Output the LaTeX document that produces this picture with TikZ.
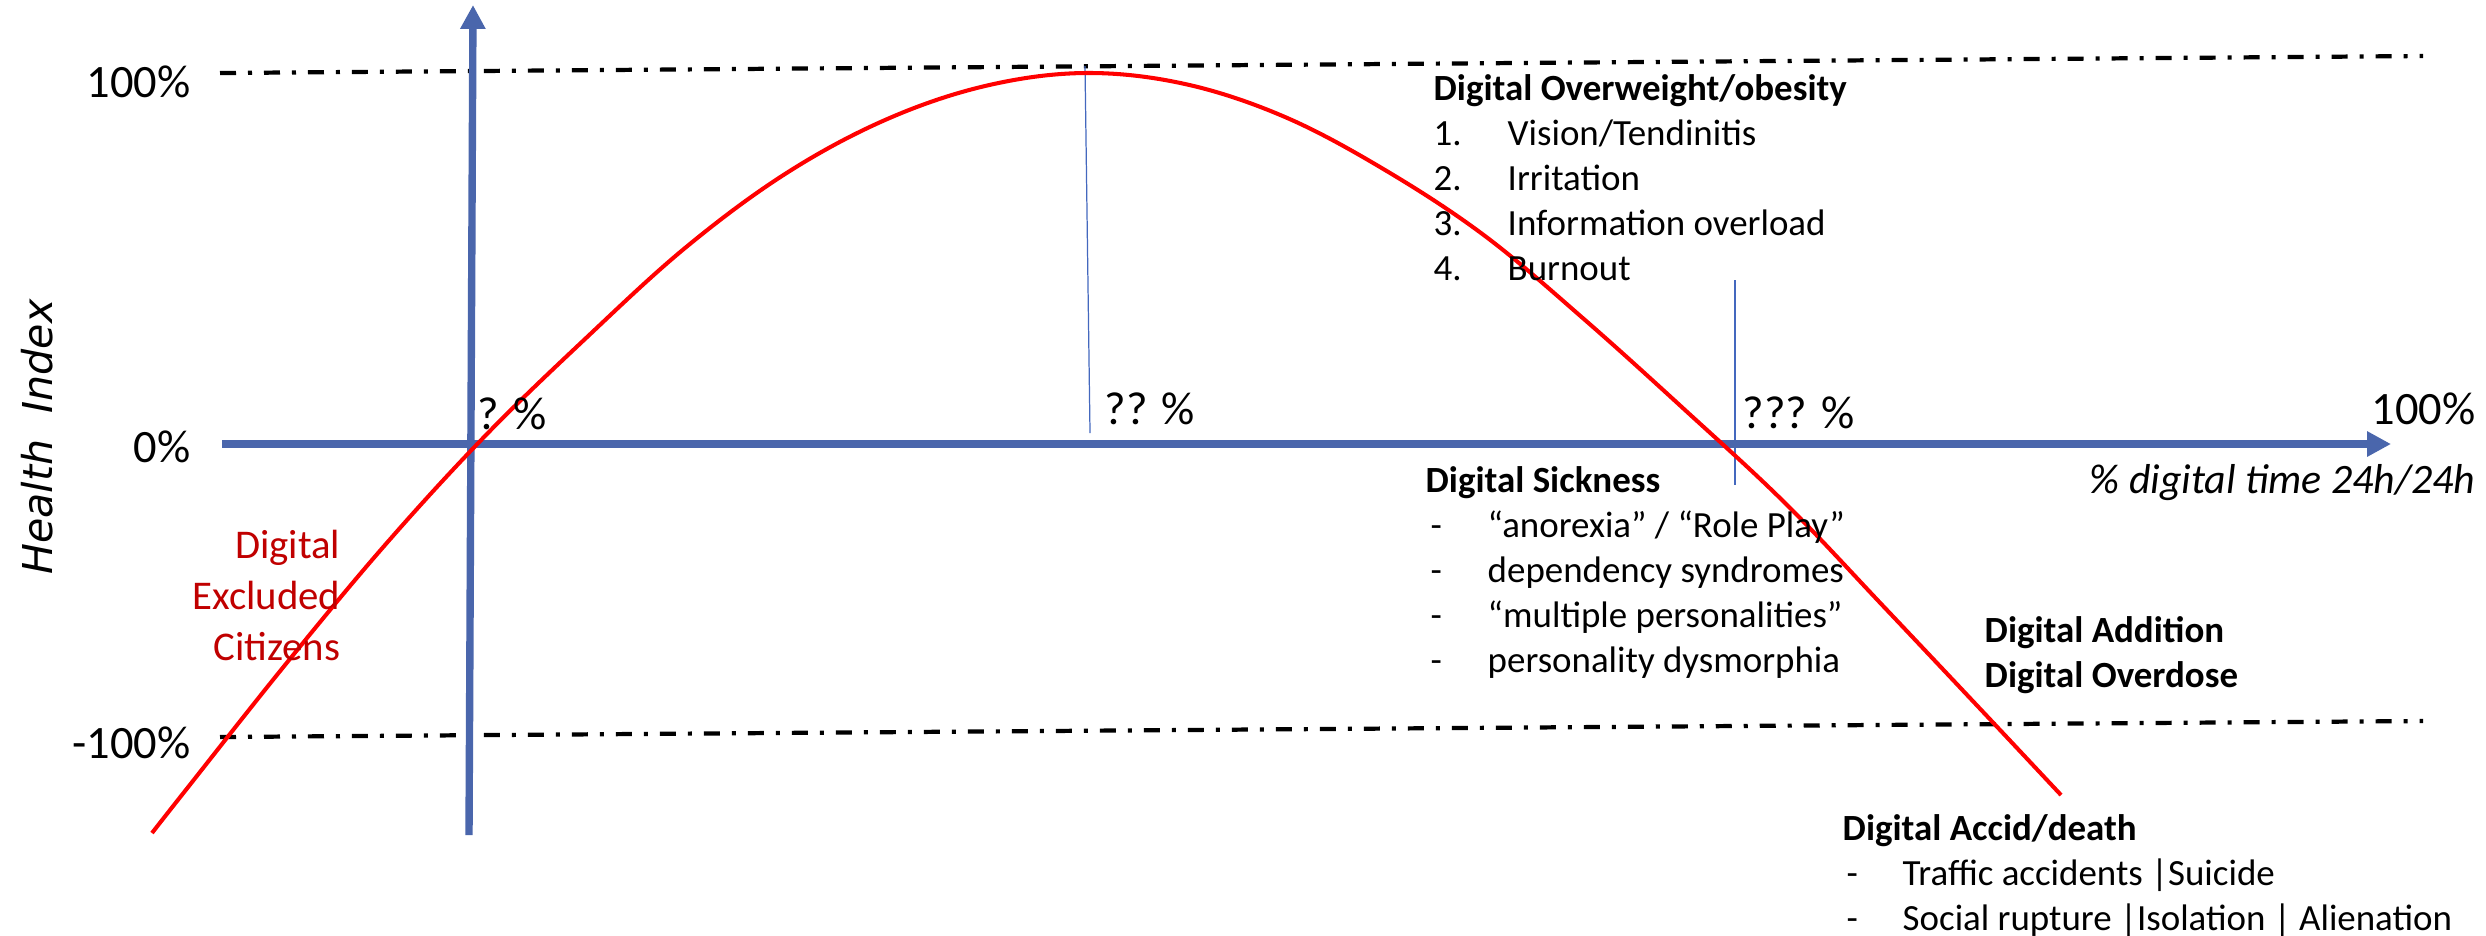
\documentclass[tikz,border=0pt]{standalone}
\usepackage{fontspec}
\setmainfont{Carlito}
\newfontfamily\hifont{DejaVu Sans}
\usetikzlibrary{arrows.meta}
\definecolor{axisblue}{RGB}{74,102,172}
\definecolor{thinblue}{RGB}{68,104,190}
\definecolor{exred}{RGB}{192,0,0}
\tikzset{
  axisline/.style={draw=axisblue, line width=2.1pt, -{Triangle[length=6.8pt,width=6.8pt]}},
  guide/.style={draw=black, line width=1.2pt, dash pattern=on 4.55pt off 3.41pt on 1.14pt off 3.41pt},
  thinline/.style={draw=thinblue, line width=0.35pt},
  curveline/.style={draw=red, line width=1.15pt},
  big/.style={font=\fontsize{13.2}{15}\selectfont, inner sep=0pt},
  txt/.style={font=\fontsize{10.5}{12.6}\selectfont, inner sep=0pt, anchor=base west},
  btxt/.style={font=\fontsize{10.5}{12.6}\selectfont\bfseries, inner sep=0pt, anchor=base west},
  redtxt/.style={font=\fontsize{11.6}{14}\selectfont, text=exred, inner sep=0pt, anchor=base east},
}
\begin{document}
\begin{tikzpicture}[x=0.01cm,y=-0.01cm]
\useasboundingbox (0,0) rectangle (2486,935);

% guide lines (100% and -100%)
\coordinate (g1a) at (220,73);
\coordinate (g1b) at (2423,56);
\coordinate (g2a) at (220,737);
\coordinate (g2b) at (2423,721);
\draw[guide] (g1a) -- (g1b);
\draw[guide] (g2a) -- (g2b);

% thin vertical markers
\coordinate (m1a) at (1085,66);
\coordinate (m1b) at (1090,433);
\coordinate (m2a) at (1735,280);
\coordinate (m2b) at (1735,485);
\draw[thinline] (m1a) -- (m1b);
\draw[thinline] (m2a) -- (m2b);

% axes
\coordinate (xa) at (222,444);
\coordinate (xb) at (2391,444);
\coordinate (ya) at (469,835);
\coordinate (yb) at (473,5);
\draw[axisline] (xa) -- (xb);
\draw[axisline] (ya) -- (yb);

% health curve
\draw[curveline] plot[smooth, tension=0.6] coordinates {
 (152,833) (185,791) (285,665) (385,545) (485,436) (585,339) (685,248)
 (785,174) (885,120) (985,86) (1085,73) (1185,84) (1285,117) (1385,170)
 (1485,236) (1585,320) (1685,410) (1785,503) (1885,608) (1985,714) (2061,795)};

% y labels
\node[big, anchor=base east] (p100) at (191,97) {100\%};
\node[big, anchor=base east] (p0) at (191,462) {0\%};
\node[big, anchor=base east] (m100) at (191,758) {-100\%};
\node[font=\hifont\itshape\fontsize{11.7}{14}\selectfont, rotate=90, anchor=base, inner sep=0pt] (hi) at (52,437) {Health~~Index};

% x labels
\node[big, anchor=base west] (q1) at (477,429) {? \%};
\node[big, anchor=base west] (q2) at (1104,424) {?? \%};
\node[big, anchor=base west] (q3) at (1742,428) {??? \%};
\node[big, anchor=base west] (x100) at (2371,424) {100\%};
\node[font=\fontsize{11.9}{14}\selectfont\itshape, inner sep=0pt, anchor=base east] (xl) at (2476,493) {\% digital time 24h/24h};

% excluded citizens
\node[redtxt] (ex1) at (341,558) {Digital};
\node[redtxt] (ex2) at (341,609) {Excluded};
\node[redtxt] (ex3) at (341,660) {Citizens};

% overweight block
\node[btxt] (ow) at (1433,100) {Digital Overweight/obesity};
\node[txt] (own1) at (1433,145) {1.};
\node[txt] (owt1) at (1507,145) {Vision/Tendinitis};
\node[txt] (own2) at (1433,190) {2.};
\node[txt] (owt2) at (1507,190) {Irritation};
\node[txt] (own3) at (1433,235) {3.};
\node[txt] (owt3) at (1507,235) {Information overload};
\node[txt] (own4) at (1433,280) {4.};
\node[txt] (owt4) at (1507,280) {Burnout};

% sickness block
\node[btxt] (sk) at (1425,492) {Digital Sickness};
\node[txt] (skd1) at (1430,537) {-};
\node[txt] (skt1) at (1487,537) {“anorexia” / “Role Play”};
\node[txt] (skd2) at (1430,582) {-};
\node[txt] (skt2) at (1487,582) {dependency syndromes};
\node[txt] (skd3) at (1430,627) {-};
\node[txt] (skt3) at (1487,627) {“multiple personalities”};
\node[txt] (skd4) at (1430,672) {-};
\node[txt] (skt4) at (1487,672) {personality dysmorphia};

% addition / overdose
\node[btxt] (ad) at (1984,642) {Digital Addition};
\node[btxt] (od) at (1984,687) {Digital Overdose};

% accident block
\node[btxt] (ac) at (1842,840) {Digital Accid/death};
\node[txt] (acd1) at (1846,885) {-};
\node[txt] (act1) at (1902,885) {Traffic accidents |Suicide};
\node[txt] (acd2) at (1846,930) {-};
\node[txt] (act2) at (1902,930) {Social rupture |Isolation | Alienation};
\end{tikzpicture}
\end{document}
